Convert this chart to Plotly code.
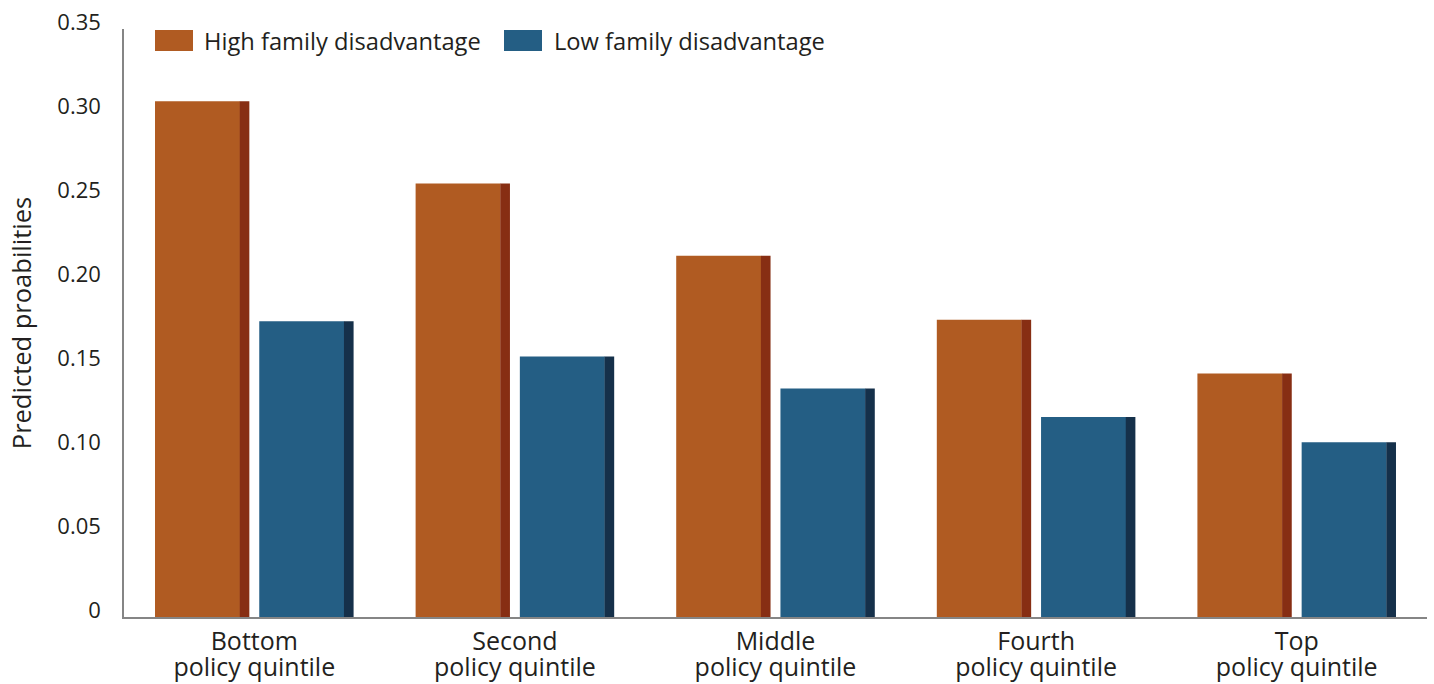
import plotly.graph_objects as go

# ---- data ----
categories = ["Bottom", "Second", "Middle", "Fourth", "Top"]
category_suffix = "policy quintile"
high_disadvantage = [0.307, 0.258, 0.215, 0.177, 0.145]
low_disadvantage = [0.176, 0.155, 0.136, 0.119, 0.104]
series_names = ["High family disadvantage", "Low family disadvantage"]
y_tick_values = [0, 0.05, 0.10, 0.15, 0.20, 0.25, 0.30, 0.35]
y_tick_labels = ["0", "0.05", "0.10", "0.15", "0.20", "0.25", "0.30", "0.35"]
y_title = "Predicted proabilities"

# ---- styles ----
FONT = "Open Sans, Lato, DejaVu Sans, sans-serif"
TEXT = "#231f20"
ORANGE, ORANGE_SIDE = "#b05b22", "#872e13"
BLUE, BLUE_SIDE = "#245e84", "#15304a"
AXIS = "#858585"

W, H = 1434, 684
ML, MR, MT, MB = 124, 7, 29, 67

x = list(range(len(categories)))
tick_text = [
    f"<span style='font-size:25px'>{c}</span><br><span style='font-size:25px'>{category_suffix}</span>"
    for c in categories
]

fig = go.Figure()

def add_series(vals, name, main_col, side_col, off_main, off_side):
    fig.add_trace(go.Bar(x=x, y=vals, name=name, marker=dict(color=main_col, line=dict(width=0)),
                         offset=off_main, width=0.326, showlegend=False,
                         hovertemplate="%{y:.3f}<extra>" + name + "</extra>"))
    fig.add_trace(go.Bar(x=x, y=vals, name=name, marker=dict(color=side_col, line=dict(width=0)),
                         offset=off_side, width=0.037, showlegend=False, hoverinfo="skip"))

add_series(high_disadvantage, series_names[0], ORANGE, ORANGE_SIDE, -0.381, -0.056)
add_series(low_disadvantage, series_names[1], BLUE, BLUE_SIDE, 0.019, 0.344)

# ---- legend drawn as swatches + text (pixel -> paper helpers) ----
pw, ph = W - ML - MR, H - MT - MB
def px(v):
    return (v - ML) / pw
def py(v):
    return (H - MB - v) / ph

legend_items = [(155, 193, 202, ORANGE, series_names[0]), (504, 542, 552, BLUE, series_names[1])]
for x0, x1, tx, col, name in legend_items:
    fig.add_shape(type="rect", xref="paper", yref="paper", x0=px(x0), x1=px(x1), y0=py(51), y1=py(30),
                  fillcolor=col, line=dict(width=0), layer="above")
    fig.add_annotation(xref="paper", yref="paper", x=px(tx), y=py(40.5), text=name, showarrow=False,
                       xanchor="left", yanchor="middle", font=dict(size=23.7, color=TEXT, family=FONT))

fig.update_layout(
    width=W, height=H,
    margin=dict(l=ML, r=MR, t=MT, b=MB, pad=0),
    barmode="overlay",
    plot_bgcolor="white", paper_bgcolor="white",
    font=dict(family=FONT, color=TEXT),
    showlegend=False,
    xaxis=dict(range=[-0.5, 4.5], tickvals=x, ticktext=tick_text, showgrid=False, zeroline=False,
               showline=True, linecolor=AXIS, linewidth=1.5, ticks="", tickfont=dict(size=20, color=TEXT),
               ticklabelstandoff=7, automargin=False, fixedrange=True),
    yaxis=dict(range=[0, 0.35], tickvals=y_tick_values, ticktext=y_tick_labels, showgrid=False,
               zeroline=False, showline=True, linecolor=AXIS, linewidth=1.5, ticks="",
               tickfont=dict(size=22, color=TEXT), ticklabelstandoff=17, ticklabelshift=-7,
               title=dict(text=y_title, font=dict(size=25.5, color=TEXT), standoff=18),
               automargin="left", fixedrange=True),
)

fig.write_html("out.html")
